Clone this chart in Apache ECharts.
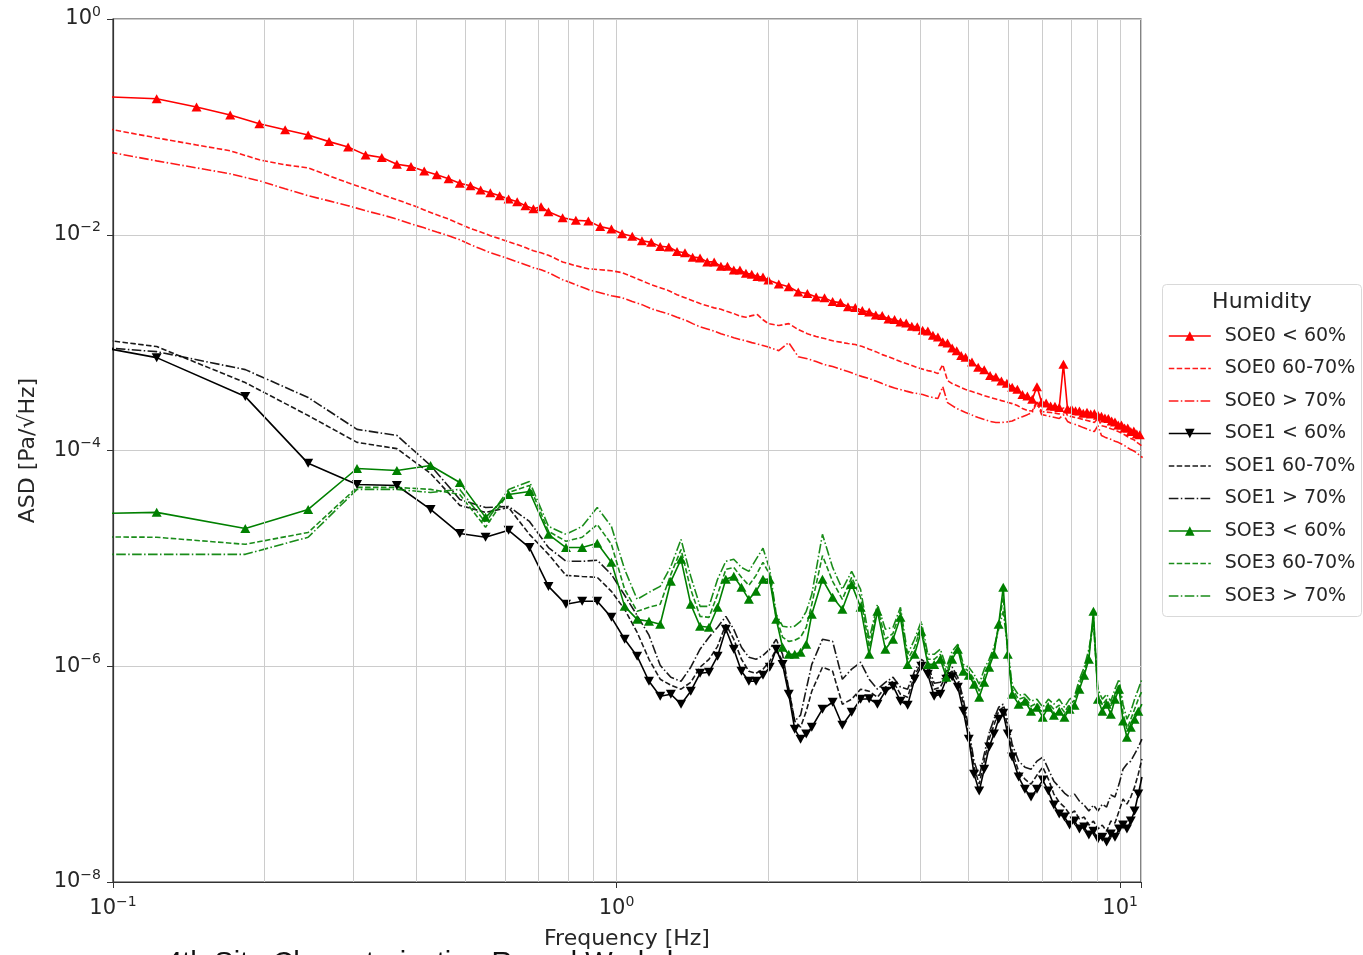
<!DOCTYPE html>
<html><head><meta charset="utf-8">
<script src="https://cdn.jsdelivr.net/npm/echarts@6/dist/echarts.min.js"></script>
<style>html,body{margin:0;padding:0;background:#fff}#c{width:1363px;height:955px}</style>
</head><body><div id="c"></div>
<script>
// ---- frequency grids [Hz] ----
const freqSOE0 = [0.0977,0.1221,0.1465,0.1709,0.1953,0.2197,0.2441,0.2686,0.2930,0.3174,0.3418,0.3662,0.3906,0.4150,0.4395,0.4639,0.4883,0.5127,0.5371,0.5615,0.5859,0.6104,0.6348,0.6592,0.6836,0.7080,0.7324,
0.7813,0.8301,0.8789,0.9277,0.9766,1.0254,1.0742,1.1230,1.1719,1.2207,1.2695,1.3184,1.3672,1.4160,1.4648,1.5137,1.5625,1.6113,1.6602,1.7090,1.7578,1.8066,1.8555,1.9043,1.9531,2.0020,
2.0996,2.1973,2.2949,2.3926,2.4902,2.5879,2.6855,2.7832,2.8809,2.9785,3.0762,3.1738,3.2715,3.3691,3.4668,3.5645,3.6621,3.7598,3.8574,3.9551,4.0527,4.1504,4.2480,4.3457,4.4434,4.5410,4.6387,4.7363,4.8340,4.9316,
5.0781,5.2246,5.3711,5.5176,5.6641,5.8105,5.9570,6.1035,6.2500,6.3965,6.5430,6.6895,6.8359,6.9824,7.1289,7.2754,7.4219,7.5684,7.7148,7.8613,8.0078,8.1543,8.3008,8.4473,8.5938,8.7402,8.8867,9.0332,9.1797,9.3262,9.4727,9.6191,9.7656,9.9121,10.0586,10.2051,10.3516,10.4980,10.6445,10.7910,10.9375,11.0840];

const freqSOE13 = [0.0610,0.1221,0.1831,0.2441,0.3052,0.3662,0.4272,0.4883,0.5493,0.6104,0.6714,0.7324,0.7935,0.8545,0.9155,0.9766,1.0376,1.0986,1.1597,1.2207,
1.2817,1.3428,1.4038,1.4648,1.5259,1.5869,1.6479,1.7090,1.7700,1.8311,1.8921,1.9531,2.0142,2.0752,2.1362,2.1973,2.2583,2.3193,2.3804,2.4414,
2.5635,2.6855,2.8076,2.9297,3.0518,3.1738,3.2959,3.4180,3.5400,3.6621,3.7842,3.9063,4.0283,4.1504,4.2725,4.3945,4.5166,4.6387,4.7607,4.8828,5.0049,5.1270,5.2490,5.3711,5.4932,5.6152,5.7373,5.8594,5.9814,6.1035,
6.2866,6.4697,6.6528,6.8359,7.0190,7.2021,7.3853,7.5684,7.7515,7.9346,8.1177,8.3008,8.4839,8.6670,8.8501,9.0332,9.2163,9.3994,9.5825,9.7656,9.9487,10.1318,10.3149,10.4980,10.6812,10.8643,11.0474];

// ---- ASD values [Pa/sqrt(Hz)] ----
const soe0Lt60 = [1.9e-1,1.82e-1,1.53e-1,1.29e-1,1.07e-1,9.4e-2,8.4e-2,7.3e-2,6.5e-2,5.5e-2,5.2e-2,4.5e-2,4.3e-2,3.9e-2,3.6e-2,3.3e-2,3.0e-2,2.85e-2,2.6e-2,2.45e-2,2.3e-2,2.15e-2,2.02e-2,1.86e-2,1.74e-2,1.82e-2,1.63e-2,
1.44e-2,1.36e-2,1.34e-2,1.19e-2,1.13e-2,1.02e-2,9.7e-3,8.8e-3,8.5e-3,7.8e-3,7.7e-3,7.0e-3,6.8e-3,6.2e-3,6.1e-3,5.6e-3,5.6e-3,5.1e-3,5.1e-3,4.7e-3,4.7e-3,4.4e-3,4.3e-3,4.1e-3,4.05e-3,3.8e-3,
3.5e-3,3.3e-3,2.95e-3,2.85e-3,2.65e-3,2.6e-3,2.4e-3,2.35e-3,2.15e-3,2.12e-3,1.98e-3,1.92e-3,1.8e-3,1.78e-3,1.66e-3,1.64e-3,1.55e-3,1.52e-3,1.42e-3,1.4e-3,1.3e-3,1.28e-3,1.17e-3,1.13e-3,1.02e-3,9.9e-4,8.9e-4,8.4e-4,7.6e-4,7.3e-4,
6.6e-4,5.9e-4,5.6e-4,4.95e-4,4.8e-4,4.4e-4,4.2e-4,3.85e-4,3.7e-4,3.3e-4,3.2e-4,2.98e-4,3.9e-4,2.8e-4,2.75e-4,2.58e-4,2.57e-4,2.5e-4,6.3e-4,2.42e-4,2.43e-4,2.33e-4,2.32e-4,2.22e-4,2.26e-4,2.18e-4,2.2e-4,2.12e-4,2.08e-4,2.0e-4,1.98e-4,1.88e-4,1.84e-4,1.72e-4,1.72e-4,1.62e-4,1.62e-4,1.5e-4,1.52e-4,1.42e-4,1.4e-4,1.33e-4];

const soe0Mid = [9.6e-2,7.9e-2,6.8e-2,6.0e-2,4.95e-2,4.45e-2,4.17e-2,3.52e-2,3.03e-2,2.67e-2,2.35e-2,2.11e-2,1.9e-2,1.7e-2,1.53e-2,1.4e-2,1.26e-2,1.14e-2,1.06e-2,9.8e-3,9.2e-3,8.6e-3,8.1e-3,7.6e-3,7.1e-3,6.8e-3,6.45e-3,
5.6e-3,5.16e-3,4.84e-3,4.74e-3,4.64e-3,4.45e-3,4.08e-3,3.75e-3,3.44e-3,3.23e-3,3.03e-3,2.78e-3,2.61e-3,2.45e-3,2.3e-3,2.2e-3,2.1e-3,2.04e-3,1.94e-3,1.86e-3,1.76e-3,1.72e-3,1.78e-3,1.82e-3,1.63e-3,1.5e-3,
1.44e-3,1.5e-3,1.32e-3,1.21e-3,1.14e-3,1.09e-3,1.04e-3,1.01e-3,9.8e-4,9.6e-4,9.2e-4,8.7e-4,8.25e-4,7.74e-4,7.4e-4,7.04e-4,6.67e-4,6.4e-4,6.13e-4,5.87e-4,5.68e-4,5.5e-4,5.39e-4,5.16e-4,6.25e-4,4.45e-4,4.17e-4,4.0e-4,3.83e-4,3.67e-4,
3.52e-4,3.37e-4,3.23e-4,3.1e-4,3.0e-4,2.9e-4,2.81e-4,2.72e-4,2.61e-4,2.45e-4,2.35e-4,2.32e-4,2.9e-4,2.3e-4,2.27e-4,2.25e-4,2.22e-4,2.18e-4,2.5e-4,2.11e-4,2.06e-4,2.02e-4,1.98e-4,1.94e-4,1.9e-4,1.86e-4,1.82e-4,2.0e-4,1.7e-4,1.67e-4,1.63e-4,1.58e-4,1.55e-4,1.5e-4,1.45e-4,1.4e-4,1.34e-4,1.29e-4,1.26e-4,1.19e-4,1.14e-4,1.09e-4];

const soe0Gt70 = [5.87e-2,4.84e-2,4.17e-2,3.67e-2,3.16e-2,2.67e-2,2.3e-2,2.06e-2,1.86e-2,1.67e-2,1.53e-2,1.4e-2,1.26e-2,1.16e-2,1.06e-2,9.8e-3,9.0e-3,8.1e-3,7.4e-3,6.8e-3,6.4e-3,6.0e-3,5.6e-3,5.27e-3,4.95e-3,4.74e-3,4.45e-3,
3.83e-3,3.44e-3,3.1e-3,2.9e-3,2.72e-3,2.61e-3,2.4e-3,2.25e-3,2.06e-3,1.94e-3,1.84e-3,1.72e-3,1.62e-3,1.5e-3,1.4e-3,1.34e-3,1.28e-3,1.21e-3,1.16e-3,1.11e-3,1.07e-3,1.04e-3,1.0e-3,9.7e-4,9.4e-4,9.1e-4,
8.43e-4,1.0e-3,7.4e-4,7.1e-4,6.67e-4,6.25e-4,6.0e-4,5.68e-4,5.39e-4,5.1e-4,4.84e-4,4.64e-4,4.4e-4,4.17e-4,3.96e-4,3.79e-4,3.67e-4,3.55e-4,3.44e-4,3.37e-4,3.3e-4,3.19e-4,3.1e-4,3.03e-4,3.9e-4,2.78e-4,2.61e-4,2.45e-4,2.35e-4,2.25e-4,
2.13e-4,2.02e-4,1.94e-4,1.86e-4,1.82e-4,1.82e-4,1.84e-4,1.88e-4,1.98e-4,2.06e-4,2.15e-4,2.25e-4,2.8e-4,2.15e-4,2.11e-4,2.06e-4,2.02e-4,1.98e-4,2.15e-4,1.86e-4,1.78e-4,1.74e-4,1.69e-4,1.63e-4,1.58e-4,1.53e-4,1.5e-4,1.7e-4,1.38e-4,1.33e-4,1.29e-4,1.26e-4,1.22e-4,1.19e-4,1.15e-4,1.11e-4,1.06e-4,1.02e-4,9.9e-5,9.5e-5,8.99e-5,8.6e-5];

const soe1Lt60 = [1.32e-3,7.26e-4,3.16e-4,7.6e-5,4.84e-5,4.74e-5,2.84e-5,1.7e-5,1.57e-5,1.82e-5,1.26e-5,5.5e-6,3.75e-6,4.0e-6,4.0e-6,2.84e-6,1.78e-6,1.24e-6,7.26e-7,5.27e-7,
5.5e-7,4.45e-7,5.87e-7,8.6e-7,8.8e-7,1.24e-6,2.2e-6,1.44e-6,8.99e-7,7.26e-7,7.26e-7,8.25e-7,9.8e-7,1.44e-6,1.04e-6,5.5e-7,2.61e-7,2.11e-7,2.35e-7,2.72e-7,
4.0e-7,4.64e-7,2.84e-7,3.75e-7,4.95e-7,5.0e-7,4.45e-7,5.87e-7,6.53e-7,4.74e-7,4.36e-7,7.58e-7,1.0e-6,8.43e-7,5.27e-7,5.5e-7,7.58e-7,8.0e-7,6.4e-7,3.83e-7,2.11e-7,1.0e-7,6.96e-8,1.11e-7,1.78e-7,2.35e-7,3.23e-7,3.67e-7,2.35e-7,1.44e-7,
9.4e-8,7.26e-8,6.13e-8,7.26e-8,8.8e-8,6.96e-8,5.16e-8,4.26e-8,4.0e-8,3.37e-8,3.67e-8,3.1e-8,3.23e-8,2.72e-8,2.95e-8,2.5e-8,2.6e-8,2.35e-8,2.78e-8,2.6e-8,3.1e-8,3.37e-8,3.1e-8,3.67e-8,4.55e-8,6.53e-8,9.4e-8];

const soe1Mid = [1.38e-3,9.2e-4,4.26e-4,2.11e-4,1.19e-4,1.04e-4,6.13e-5,3.1e-5,2.67e-5,2.96e-5,1.67e-5,1.09e-5,6.96e-6,6.8e-6,6.67e-6,4.95e-6,3.37e-6,2.06e-6,1.16e-6,7.58e-7,
6.67e-7,6.13e-7,7.1e-7,9.8e-7,1.16e-6,1.53e-6,2.45e-6,1.78e-6,1.16e-6,8.99e-7,8.6e-7,9.4e-7,1.11e-6,1.44e-6,1.11e-6,6.13e-7,3.1e-7,2.72e-7,3.83e-7,5.87e-7,
9.8e-7,8.99e-7,4.45e-7,4.95e-7,6.13e-7,5.87e-7,5.16e-7,6.4e-7,7.26e-7,5.5e-7,5.16e-7,8.25e-7,1.07e-6,9.4e-7,6.13e-7,6.4e-7,8.25e-7,8.99e-7,7.26e-7,4.45e-7,2.35e-7,1.16e-7,8.08e-8,1.32e-7,2.11e-7,2.84e-7,3.83e-7,4.17e-7,2.72e-7,1.63e-7,
1.06e-7,8.99e-8,8.08e-8,9.8e-8,1.16e-7,8.99e-8,6.53e-8,5.5e-8,4.95e-8,4.26e-8,4.55e-8,3.83e-8,4.0e-8,3.37e-8,3.67e-8,3.1e-8,3.37e-8,2.95e-8,3.67e-8,3.52e-8,4.55e-8,5.87e-8,5.27e-8,6.13e-8,7.58e-8,1.0e-7,1.38e-7];

const soe1Gt70 = [1.05e-3,8.25e-4,5.62e-4,3.1e-4,1.57e-4,1.38e-4,7.26e-5,3.52e-5,2.96e-5,3.03e-5,2.2e-5,1.26e-5,9.4e-6,9.4e-6,9.6e-6,7.1e-6,4.55e-6,2.96e-6,1.94e-6,1.02e-6,
7.9e-7,7.26e-7,9.8e-7,1.44e-6,1.86e-6,2.3e-6,2.9e-6,2.2e-6,1.5e-6,1.21e-6,1.16e-6,1.26e-6,1.44e-6,1.78e-6,1.29e-6,6.13e-7,3.1e-7,3.52e-7,6.13e-7,1.04e-6,
1.78e-6,1.7e-6,7.58e-7,9.4e-7,1.09e-6,7.58e-7,6.13e-7,7.1e-7,7.9e-7,6.4e-7,6.13e-7,8.99e-7,1.16e-6,1.04e-6,6.96e-7,7.1e-7,8.99e-7,9.8e-7,7.9e-7,4.95e-7,2.61e-7,1.32e-7,9.4e-8,1.53e-7,2.4e-7,3.23e-7,4.17e-7,4.45e-7,3.1e-7,1.89e-7,
1.32e-7,1.16e-7,1.11e-7,1.32e-7,1.44e-7,1.11e-7,8.6e-8,7.58e-8,6.67e-8,6.13e-8,6.53e-8,5.62e-8,5.16e-8,4.55e-8,5.16e-8,4.55e-8,5.27e-8,4.95e-8,6.4e-8,6.13e-8,8.08e-8,1.11e-7,1.24e-7,1.32e-7,1.53e-7,1.78e-7,2.11e-7];

const soe3Lt60 = [2.5e-5,2.67e-5,1.89e-5,2.84e-5,6.81e-5,6.53e-5,7.26e-5,5.05e-5,2.4e-5,3.91e-5,4.17e-5,1.67e-5,1.26e-5,1.26e-5,1.38e-5,9.2e-6,3.59e-6,2.72e-6,2.61e-6,2.45e-6,
6.13e-6,9.8e-6,3.75e-6,2.35e-6,2.3e-6,3.52e-6,6.4e-6,6.81e-6,5.39e-6,4.17e-6,4.95e-6,6.4e-6,6.4e-6,2.72e-6,1.5e-6,1.29e-6,1.29e-6,1.35e-6,1.6e-6,3.03e-6,
6.4e-6,4.36e-6,3.37e-6,5.74e-6,3.52e-6,1.29e-6,3.23e-6,1.44e-6,1.78e-6,2.84e-6,1.04e-6,1.29e-6,2.11e-6,1.04e-6,1.04e-6,1.16e-6,7.9e-7,1.16e-6,1.44e-6,8.99e-7,8.25e-7,6.81e-7,5.16e-7,7.1e-7,9.8e-7,1.29e-6,2.45e-6,5.39e-6,1.29e-6,5.5e-7,
4.45e-7,4.74e-7,3.83e-7,4.17e-7,3.37e-7,4.17e-7,3.52e-7,3.83e-7,3.37e-7,4.0e-7,4.36e-7,6.13e-7,8.25e-7,1.16e-6,3.23e-6,4.95e-7,3.83e-7,4.45e-7,3.59e-7,4.95e-7,6.13e-7,3.1e-7,2.2e-7,2.72e-7,3.23e-7,3.83e-7,4.45e-7];

const soe3Mid = [1.6e-5,1.57e-5,1.35e-5,1.74e-5,4.55e-5,4.55e-5,4.36e-5,3.91e-5,1.94e-5,4.08e-5,4.74e-5,1.78e-5,1.44e-5,1.57e-5,2.06e-5,1.35e-5,5.16e-6,3.23e-6,3.52e-6,3.75e-6,
7.1e-6,1.21e-5,5.16e-6,2.9e-6,2.84e-6,4.64e-6,7.9e-6,8.25e-6,6.67e-6,5.62e-6,6.96e-6,9.2e-6,7.1e-6,2.84e-6,1.86e-6,1.7e-6,1.74e-6,1.86e-6,2.3e-6,3.75e-6,
1.06e-5,6.13e-6,4.17e-6,6.67e-6,4.36e-6,1.5e-6,3.52e-6,1.78e-6,2.02e-6,3.23e-6,1.16e-6,1.5e-6,2.35e-6,1.16e-6,1.16e-6,1.29e-6,8.8e-7,1.26e-6,1.5e-6,9.8e-7,8.99e-7,7.58e-7,5.87e-7,8.08e-7,1.07e-6,1.38e-6,2.35e-6,4.36e-6,1.38e-6,6.13e-7,
4.95e-7,5.16e-7,4.26e-7,4.55e-7,3.75e-7,4.55e-7,4.0e-7,4.36e-7,3.75e-7,4.45e-7,4.84e-7,6.81e-7,8.99e-7,1.29e-6,2.84e-6,5.5e-7,4.36e-7,4.95e-7,4.17e-7,5.5e-7,6.81e-7,3.67e-7,2.61e-7,3.23e-7,4.0e-7,4.95e-7,5.87e-7];

const soe3Gt70 = [1.09e-5,1.09e-5,1.09e-5,1.57e-5,4.36e-5,4.36e-5,4.08e-5,4.36e-5,2.15e-5,4.36e-5,5.16e-5,1.98e-5,1.67e-5,1.98e-5,2.96e-5,1.98e-5,7.9e-6,4.17e-6,4.84e-6,5.5e-6,
8.43e-6,1.5e-5,6.81e-6,3.59e-6,3.59e-6,6.4e-6,9.4e-6,9.8e-6,8.25e-6,7.58e-6,9.8e-6,1.24e-5,7.9e-6,3.03e-6,2.35e-6,2.3e-6,2.35e-6,2.61e-6,3.23e-6,4.64e-6,
1.67e-5,8.25e-6,5.16e-6,7.58e-6,5.16e-6,1.78e-6,3.75e-6,2.2e-6,2.3e-6,3.52e-6,1.29e-6,1.78e-6,2.61e-6,1.29e-6,1.29e-6,1.44e-6,9.8e-7,1.38e-6,1.6e-6,1.04e-6,9.8e-7,8.43e-7,6.81e-7,9.4e-7,1.16e-6,1.5e-6,2.2e-6,3.23e-6,1.44e-6,6.67e-7,
5.39e-7,5.5e-7,4.74e-7,4.95e-7,4.17e-7,4.95e-7,4.45e-7,4.95e-7,4.17e-7,4.95e-7,5.27e-7,7.58e-7,9.8e-7,1.44e-6,2.45e-6,6.13e-7,4.95e-7,5.5e-7,4.74e-7,6.13e-7,7.58e-7,4.45e-7,3.23e-7,3.83e-7,4.95e-7,6.13e-7,7.58e-7];

const seriesNames = ['SOE0 < 60%','SOE0 60-70%','SOE0 > 70%','SOE1 < 60%','SOE1 60-70%','SOE1 > 70%','SOE3 < 60%','SOE3 60-70%','SOE3 > 70%'];
const xMinorGrid = [0.2,0.3,0.4,0.5,0.6,0.7,0.8,0.9,2,3,4,5,6,7,8,9];

const FONT = 'DejaVu Sans';
const TXT = '#262626';
const RED = '#ff0000', BLK = '#000000', GRN = '#008000';
const DASH = [5.5, 2.4], DASHDOT = [9.6, 2.4, 1.5, 2.4];

function pairs(f, v) { return f.map((x, i) => [x, v[i]]); }
function powLabel(v) {
  const e = Math.log10(v), r = Math.round(e);
  if (Math.abs(e - r) > 1e-6) return '';
  return '{b|10}{s|' + (r < 0 ? '\u2212' + (-r) : String(r)) + '}';
}
const labelRich = {
  b: { fontFamily: FONT, fontSize: 21, color: TXT, lineHeight: 28, verticalAlign: 'middle' },
  s: { fontFamily: FONT, fontSize: 14, color: TXT, verticalAlign: 'top' }
};

function markerSeries(name, f, v, color, rot) {
  return { name, type: 'line', data: pairs(f, v), z: 3,
    symbol: 'triangle', symbolSize: [10, 9], symbolRotate: rot, showSymbol: true,
    itemStyle: { color: color }, lineStyle: { color: color, width: 1.6 },
    emphasis: { disabled: true }, animation: false };
}
function plainSeries(name, f, v, color, dash) {
  return { name, type: 'line', data: pairs(f, v), z: 3, symbol: 'none',
    itemStyle: { color: color }, lineStyle: { color: color, width: 1.6, type: dash, opacity: 0.9 },
    emphasis: { disabled: true }, animation: false };
}

const chart = echarts.init(document.getElementById('c'), null, { renderer: 'canvas' });
chart.setOption({
  animation: false,
  backgroundColor: '#ffffff',
  grid: { left: 113, right: 222, top: 19, bottom: 72, show: true, borderColor: '#333', borderWidth: 1.2, backgroundColor: 'transparent' },
  xAxis: {
    type: 'log', logBase: 10, min: 0.1, max: 11,
    name: 'Frequency [Hz]', nameLocation: 'middle', nameGap: 46,
    nameTextStyle: { fontFamily: FONT, fontSize: 22, color: TXT },
    axisLine: { show: true, lineStyle: { color: '#333', width: 1.2 } },
    axisTick: { show: true, inside: false, length: 6, lineStyle: { color: '#333' } },
    axisLabel: { margin: 13, formatter: powLabel, rich: labelRich },
    splitLine: { show: true, lineStyle: { color: '#cccccc', width: 1 } },
    minorTick: { show: false }, minorSplitLine: { show: false }
  },
  yAxis: {
    type: 'log', logBase: 10, min: 1e-8, max: 1, interval: 2,
    name: 'ASD [Pa/\u221AHz]', nameLocation: 'middle', nameGap: 74,
    nameTextStyle: { fontFamily: FONT, fontSize: 22, color: TXT },
    axisLine: { show: true, lineStyle: { color: '#333', width: 1.2 } },
    axisTick: { show: true, inside: false, length: 6, lineStyle: { color: '#333' } },
    axisLabel: { margin: 12, formatter: powLabel, rich: labelRich },
    splitLine: { show: true, lineStyle: { color: '#cccccc', width: 1 } },
    minorTick: { show: false }, minorSplitLine: { show: false }
  },
  legend: {
    orient: 'vertical', left: 1168, top: 326, padding: 0,
    itemWidth: 42, itemHeight: 12, itemGap: 12.5, selectedMode: false,
    data: seriesNames.map((n, i) => (i % 3 === 0 ? { name: n } : { name: n, itemStyle: { opacity: 0 } })),
    textStyle: { fontFamily: FONT, fontSize: 19, color: TXT, lineHeight: 20, padding: [0, 0, 0, 9] },
    lineStyle: { width: 1.6 }
  },
  graphic: [
    { type: 'rect', left: 1162, top: 284, z: 0, shape: { width: 199, height: 332, r: 4 },
      style: { fill: '#ffffff', stroke: '#d9d9d9', lineWidth: 1 } },
    { type: 'text', x: 1262, y: 302, z: 10,
      style: { text: 'Humidity', font: '22px "DejaVu Sans"', fill: TXT, textAlign: 'center', textVerticalAlign: 'middle' } },
    { type: 'text', x: 166, y: 964, z: 10,
      style: { text: '4th Site Characterization Round Workshop', font: '29px "Liberation Sans"', fill: '#111', textAlign: 'left', textVerticalAlign: 'middle' } }
  ],
  series: [
    { name: 'grid-minor', type: 'line', data: [], z: 1, silent: true,
      markLine: { silent: true, symbol: 'none', animation: false, label: { show: false },
        lineStyle: { color: '#cccccc', width: 1, type: 'solid' },
        emphasis: { disabled: true },
        data: xMinorGrid.map(v => ({ xAxis: v })) } },
    markerSeries(seriesNames[0], freqSOE0, soe0Lt60, RED, 0),
    plainSeries(seriesNames[1], freqSOE0, soe0Mid, RED, DASH),
    plainSeries(seriesNames[2], freqSOE0, soe0Gt70, RED, DASHDOT),
    markerSeries(seriesNames[3], freqSOE13, soe1Lt60, BLK, 180),
    plainSeries(seriesNames[4], freqSOE13, soe1Mid, BLK, DASH),
    plainSeries(seriesNames[5], freqSOE13, soe1Gt70, BLK, DASHDOT),
    markerSeries(seriesNames[6], freqSOE13, soe3Lt60, GRN, 0),
    plainSeries(seriesNames[7], freqSOE13, soe3Mid, GRN, DASH),
    plainSeries(seriesNames[8], freqSOE13, soe3Gt70, GRN, DASHDOT)
  ]
});
</script>
</body></html>
